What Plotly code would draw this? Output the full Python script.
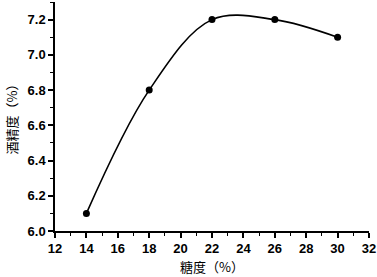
import plotly.graph_objects as go

sugar = [14, 18, 22, 26, 30]
alcohol = [6.1, 6.8, 7.2, 7.2, 7.1]
x_ticks = [12, 14, 16, 18, 20, 22, 24, 26, 28, 30, 32]
y_ticks = [6.0, 6.2, 6.4, 6.6, 6.8, 7.0, 7.2]

fig = go.Figure()
fig.add_trace(go.Scatter(
    x=sugar, y=alcohol, mode="lines+markers",
    line=dict(color="black", width=1.6, shape="spline", smoothing=1),
    marker=dict(color="black", size=7),
    showlegend=False,
))

tickfont = dict(family="Liberation Sans", size=13, color="black", weight="bold")
titlefont = dict(family="Noto Sans CJK SC", size=13, color="black")
fig.update_layout(
    width=377, height=277,
    margin=dict(l=55, r=8, t=2, b=46, autoexpand=False),
    plot_bgcolor="white", paper_bgcolor="white",
    xaxis=dict(
        range=[12, 32], tickvals=x_ticks, ticktext=[str(v) for v in x_ticks],
        showline=True, linecolor="black", linewidth=1.5, showgrid=False, zeroline=False,
        ticks="outside", ticklen=5, tickwidth=1.5, tickcolor="black", tickfont=tickfont,
        minor=dict(dtick=1, ticks="outside", ticklen=3, tickwidth=1.2, tickcolor="black", showgrid=False),
        automargin=False,
    ),
    yaxis=dict(
        range=[6.0, 7.3], tickvals=y_ticks, ticktext=[f"{v:.1f}" for v in y_ticks],
        showline=True, linecolor="black", linewidth=1.5, showgrid=False, zeroline=False,
        ticks="outside", ticklen=5, tickwidth=1.5, tickcolor="black", tickfont=tickfont,
        minor=dict(dtick=0.1, ticks="outside", ticklen=3, tickwidth=1.2, tickcolor="black", showgrid=False),
        automargin=False,
    ),
    annotations=[
        dict(text="糖度（%）", x=0.5, y=-0.157, xref="paper", yref="paper",
             xanchor="center", yanchor="middle", showarrow=False, font=titlefont),
        dict(text="酒精度（%）", x=-0.14, y=0.5, xref="paper", yref="paper",
             xanchor="center", yanchor="middle", showarrow=False, textangle=-90, font=titlefont),
    ],
)
fig.write_html("out.html", config={"displayModeBar": False},
               post_script="document.body.style.margin='0';document.body.style.padding='0';")
